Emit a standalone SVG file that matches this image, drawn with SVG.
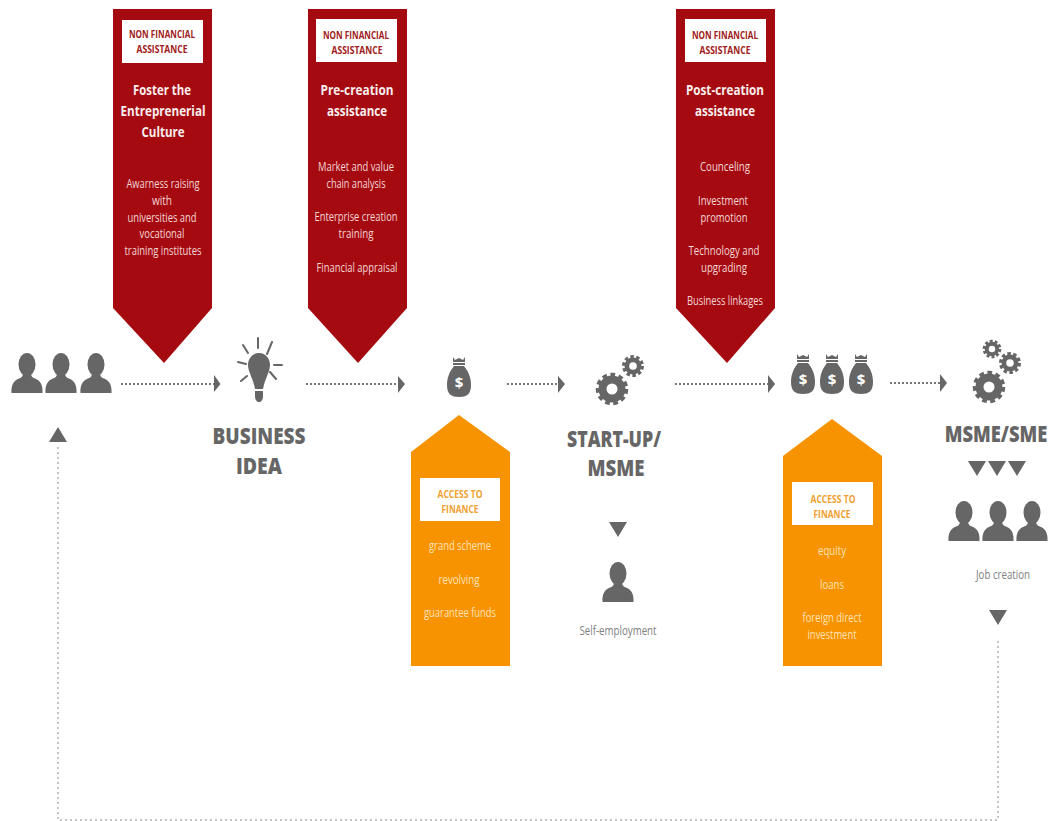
<svg xmlns="http://www.w3.org/2000/svg" xmlns:xlink="http://www.w3.org/1999/xlink" width="1053" height="821" viewBox="0 0 1053 821">
<style>
text{font-family:"Open Sans","Liberation Sans",sans-serif;text-anchor:middle}
.g{fill:#666}
.red{fill:#a50a10}
.org{fill:#f79200}
.box{fill:#fff}
.tag{font-size:11px;font-weight:700}
.tr{fill:#a01a20}
.to{fill:#f0a030}
.h{font-size:15px;font-weight:700;fill:#f8eeee}
.b{font-size:12px;fill:#f3d6d6}
.bo{font-size:12px;fill:#fde2b8}
.big{font-size:23px;font-weight:800;fill:#666}
.cap{font-size:12px;fill:#808080}
.dot{fill:none;stroke:#777;stroke-width:2;stroke-dasharray:2 2}
.thin{fill:none;stroke:#888;stroke-width:1;stroke-dasharray:2 3}
.ray{stroke:#666;stroke-width:2;stroke-linecap:round;fill:none}
</style>
<defs>
<g id="person"><ellipse cx="0" cy="11.500" rx="8.500" ry="11.500"/><path d="M-15.500 40C-16 33-14 28-8 25.500C-5 24.500-4 23-4 20L4 20C4 23 5 24.500 8 25.500C14 28 16 33 15.500 40Z"/></g>
<g id="bag"><path d="M-6 0L-4 3L0 1L4 3L6 0L6 5L-6 5Z"/><rect x="-6" y="6" width="12" height="2"/><path d="M-5 9L5 9C9 14 12 20 12 28C12 37 8 40 0 40C-8 40-12 37-12 28C-12 20-9 14-5 9Z"/><text x="0" y="31" style="font-size:15px;font-weight:700;fill:#fff">$</text></g>
<g id="gearL"><circle r="13.500"/><circle r="14" fill="none" stroke="#666" stroke-width="4.500" stroke-dasharray="4.600 3.400"/><circle r="5.500" fill="#fff"/></g>
<g id="gearS"><circle r="8.500"/><circle r="9.200" fill="none" stroke="#666" stroke-width="3.600" stroke-dasharray="3.400 2.380"/><circle r="3.800" fill="#fff"/></g>
<path id="tdown" d="M-9 0L9 0L0 15Z"/>
</defs>

<g id="connectors">
<path class="dot" d="M121 384H214"/><path class="g" d="M214 375L220.500 384L214 392Z"/>
<path class="dot" d="M306 384H398"/><path class="g" d="M398 376L405 384L398 393Z"/>
<path class="dot" d="M507 384H558"/><path class="g" d="M558 376L565 384L558 393Z"/>
<path class="dot" d="M675 384H768"/><path class="g" d="M768 375L775 384L768 393Z"/>
<path class="dot" d="M890 383H940"/><path class="g" d="M940 374L947 383L940 392Z"/>
<path class="thin" d="M58 447V820H998V638"/>
<path class="g" d="M49 442L58 427L67 442Z"/>
<use class="g" xlink:href="#tdown" href="#tdown" x="998" y="610"/>
<use class="g" xlink:href="#tdown" href="#tdown" x="618" y="522"/>
<use class="g" xlink:href="#tdown" href="#tdown" x="977" y="461"/>
<use class="g" xlink:href="#tdown" href="#tdown" x="997" y="461"/>
<use class="g" xlink:href="#tdown" href="#tdown" x="1017" y="461"/>
</g>

<g id="people-start" class="g">
<use xlink:href="#person" href="#person" x="27" y="353"/>
<use xlink:href="#person" href="#person" x="61" y="353"/>
<use xlink:href="#person" href="#person" x="96" y="353"/>
</g>

<g id="business-idea">
<path class="ray" d="M258 338V348M243 345L248 353M272 342L267 354M238 362L246 364M274 365H282M241 381L247 376M276 379L270 372"/>
<path class="g" d="M259 353C266 353 270 359 270 365C270 372 265 378 263 389L255 389C253 378 248 372 248 365C248 359 252 353 259 353Z"/>
<path class="g" d="M255 391H263V396C263 400 261 402 259 402C257 402 255 400 255 396Z"/>
<text class="big" x="259" y="444" textLength="93" lengthAdjust="spacingAndGlyphs">BUSINESS</text>
<text class="big" x="259" y="474" textLength="46" lengthAdjust="spacingAndGlyphs">IDEA</text>
</g>

<g id="foster">
<path class="red" d="M113 9H212V308L164 363L113 308Z"/>
<rect class="box" x="122" y="20" width="81" height="43"/>
<text class="tag tr" x="162" y="38" textLength="66" lengthAdjust="spacingAndGlyphs">NON FINANCIAL</text>
<text class="tag tr" x="162" y="53" textLength="51" lengthAdjust="spacingAndGlyphs">ASSISTANCE</text>
<text class="h" x="162" y="95" textLength="58" lengthAdjust="spacingAndGlyphs">Foster the</text>
<text class="h" x="163" y="116" textLength="85" lengthAdjust="spacingAndGlyphs">Entreprenerial</text>
<text class="h" x="163" y="137" textLength="43" lengthAdjust="spacingAndGlyphs">Culture</text>
<text class="b" x="163" y="188" textLength="73" lengthAdjust="spacingAndGlyphs">Awarness raising</text>
<text class="b" x="162" y="205" textLength="20" lengthAdjust="spacingAndGlyphs">with</text>
<text class="b" x="162" y="222" textLength="69" lengthAdjust="spacingAndGlyphs">universities and</text>
<text class="b" x="162" y="238" textLength="45" lengthAdjust="spacingAndGlyphs">vocational</text>
<text class="b" x="163" y="255" textLength="77" lengthAdjust="spacingAndGlyphs">training institutes</text>
</g>

<g id="pre-creation">
<path class="red" d="M308 9H407V308L358 363L308 308Z"/>
<rect class="box" x="316" y="19" width="81" height="43"/>
<text class="tag tr" x="356" y="39" textLength="66" lengthAdjust="spacingAndGlyphs">NON FINANCIAL</text>
<text class="tag tr" x="357" y="54" textLength="51" lengthAdjust="spacingAndGlyphs">ASSISTANCE</text>
<text class="h" x="357" y="95" textLength="73" lengthAdjust="spacingAndGlyphs">Pre-creation</text>
<text class="h" x="357" y="116" textLength="60" lengthAdjust="spacingAndGlyphs">assistance</text>
<text class="b" x="356" y="171" textLength="76" lengthAdjust="spacingAndGlyphs">Market and value</text>
<text class="b" x="356" y="188" textLength="59" lengthAdjust="spacingAndGlyphs">chain analysis</text>
<text class="b" x="356" y="221" textLength="83" lengthAdjust="spacingAndGlyphs">Enterprise creation</text>
<text class="b" x="356" y="238" textLength="35" lengthAdjust="spacingAndGlyphs">training</text>
<text class="b" x="357" y="272" textLength="81" lengthAdjust="spacingAndGlyphs">Financial appraisal</text>
</g>

<g id="post-creation">
<path class="red" d="M676 9H775V308L727 363L676 308Z"/>
<rect class="box" x="685" y="19" width="81" height="43"/>
<text class="tag tr" x="725" y="39" textLength="66" lengthAdjust="spacingAndGlyphs">NON FINANCIAL</text>
<text class="tag tr" x="725" y="54" textLength="51" lengthAdjust="spacingAndGlyphs">ASSISTANCE</text>
<text class="h" x="725" y="95" textLength="78" lengthAdjust="spacingAndGlyphs">Post-creation</text>
<text class="h" x="725" y="116" textLength="60" lengthAdjust="spacingAndGlyphs">assistance</text>
<text class="b" x="725" y="171" textLength="50" lengthAdjust="spacingAndGlyphs">Counceling</text>
<text class="b" x="723" y="205" textLength="50" lengthAdjust="spacingAndGlyphs">Investment</text>
<text class="b" x="724" y="222" textLength="47" lengthAdjust="spacingAndGlyphs">promotion</text>
<text class="b" x="724" y="255" textLength="71" lengthAdjust="spacingAndGlyphs">Technology and</text>
<text class="b" x="724" y="272" textLength="46" lengthAdjust="spacingAndGlyphs">upgrading</text>
<text class="b" x="725" y="305" textLength="76" lengthAdjust="spacingAndGlyphs">Business linkages</text>
</g>

<g id="bag-one" class="g"><use xlink:href="#bag" href="#bag" x="459" y="357"/></g>

<g id="finance-1">
<path class="org" d="M459 415L510 452V666H411V452Z"/>
<rect class="box" x="420" y="478" width="80" height="43"/>
<text class="tag to" x="460" y="498" textLength="45" lengthAdjust="spacingAndGlyphs">ACCESS TO</text>
<text class="tag to" x="460" y="513" textLength="37" lengthAdjust="spacingAndGlyphs">FINANCE</text>
<text class="bo" x="460" y="550" textLength="62" lengthAdjust="spacingAndGlyphs">grand scheme</text>
<text class="bo" x="459" y="584" textLength="41" lengthAdjust="spacingAndGlyphs">revolving</text>
<text class="bo" x="460" y="617" textLength="72" lengthAdjust="spacingAndGlyphs">guarantee funds</text>
</g>

<g id="start-up">
<g class="g"><use xlink:href="#gearL" href="#gearL" x="612" y="389"/><use xlink:href="#gearS" href="#gearS" x="633" y="366"/></g>
<text class="big" x="614" y="447" textLength="94" lengthAdjust="spacingAndGlyphs">START-UP/</text>
<text class="big" x="616" y="476" textLength="57" lengthAdjust="spacingAndGlyphs">MSME</text>
</g>

<g id="self-employment">
<use class="g" xlink:href="#person" href="#person" x="618" y="562"/>
<text class="cap" x="618" y="635" textLength="77" lengthAdjust="spacingAndGlyphs">Self-employment</text>
</g>

<g id="bags-three" class="g">
<use xlink:href="#bag" href="#bag" x="803" y="354"/>
<use xlink:href="#bag" href="#bag" x="832" y="354"/>
<use xlink:href="#bag" href="#bag" x="861" y="354"/>
</g>

<g id="finance-2">
<path class="org" d="M832 419L882 456V666H783V456Z"/>
<rect class="box" x="792" y="482" width="81" height="43"/>
<text class="tag to" x="833" y="503" textLength="45" lengthAdjust="spacingAndGlyphs">ACCESS TO</text>
<text class="tag to" x="832" y="518" textLength="37" lengthAdjust="spacingAndGlyphs">FINANCE</text>
<text class="bo" x="832" y="555" textLength="28" lengthAdjust="spacingAndGlyphs">equity</text>
<text class="bo" x="832" y="589" textLength="24" lengthAdjust="spacingAndGlyphs">loans</text>
<text class="bo" x="832" y="622" textLength="59" lengthAdjust="spacingAndGlyphs">foreign direct</text>
<text class="bo" x="832" y="639" textLength="49" lengthAdjust="spacingAndGlyphs">investment</text>
</g>

<g id="msme-sme">
<g class="g"><use xlink:href="#gearL" href="#gearL" x="989" y="387"/><use xlink:href="#gearS" href="#gearS" x="1010" y="363"/><use xlink:href="#gearS" href="#gearS" transform="translate(992 349) scale(.85)"/></g>
<text class="big" transform="translate(996 442) scale(.75 1)" textLength="137" lengthAdjust="spacingAndGlyphs">MSME/SME</text>
</g>

<g id="job-creation">
<g class="g">
<use xlink:href="#person" href="#person" x="964" y="501"/>
<use xlink:href="#person" href="#person" x="998" y="501"/>
<use xlink:href="#person" href="#person" x="1032" y="501"/>
</g>
<text class="cap" x="1003" y="579" textLength="54" lengthAdjust="spacingAndGlyphs">Job creation</text>
</g>
</svg>
